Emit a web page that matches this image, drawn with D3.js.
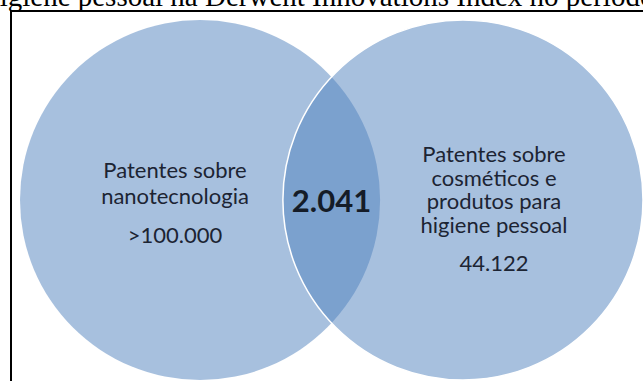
<!DOCTYPE html>
<html>
<head>
<meta charset="utf-8">
<script src="https://cdn.jsdelivr.net/npm/d3@7"></script>
<style>
  html, body { margin: 0; padding: 0; background: #fff; overflow: hidden; }
  svg { display: block; }
</style>
</head>
<body>
<svg id="chart" width="643" height="381"></svg>
<script>
// Venn diagram: patents on nanotechnology vs. cosmetics / personal hygiene
const caption = "higiene pessoal na Derwent Innovations Index no período";
const setNames = ["nano", "cosm"];
const setLabels = [
  ["Patentes sobre", "nanotecnologia"],
  ["Patentes sobre", "cosméticos e", "produtos para", "higiene pessoal"]
];
const setValues = [">100.000", "44.122"];
const overlapValue = "2.041";

// Layout in unit space: both circles radius 1, centres 1.46 apart
const unitCenters = [0, 1.46];
const unitRadius = 1;

const W = 643, H = 381;
const svg = d3.select("#chart");

// Unit -> pixel scales
const x = d3.scaleLinear().domain([-1, 2.46]).range([20, 643]);
const y = d3.scaleLinear().domain([-1, 1]).range([20, 380]);
const rPx = x(unitRadius) - x(0);

const fillColor = "#4F81BD";

// Caption line (runs past both edges of the view)
const cap = svg.append("text")
  .attr("x", 0).attr("y", 6)
  .attr("font-family", "'Liberation Serif', 'Times New Roman', serif")
  .attr("font-size", 29)
  .attr("fill", "#000")
  .text(caption);
const idx = caption.indexOf("Derwent");
const pre = cap.node().getSubStringLength(0, idx);
cap.attr("x", 205 - pre);

// Frame (top and left edges visible)
svg.append("line").attr("x1", 10).attr("x2", W + 2).attr("y1", 11).attr("y2", 11)
  .attr("stroke", "#000").attr("stroke-width", 2);
svg.append("line").attr("x1", 11).attr("x2", 11).attr("y1", 10).attr("y2", H + 2)
  .attr("stroke", "#000").attr("stroke-width", 2);

const circles = svg.append("g");
circles.selectAll("circle")
  .data(setNames)
  .join("circle")
  .attr("cx", (d, i) => x(unitCenters[i]))
  .attr("cy", y(0))
  .attr("r", rPx)
  .attr("fill", fillColor)
  .attr("fill-opacity", 0.5)
  .attr("stroke", (d, i) => i === 1 ? "#fff" : "none")
  .attr("stroke-width", 1.5);

const textFont = "Lato, 'Open Sans', sans-serif";
const textColor = "#1c2433";
const labelCx = [175, 494];
const labelTop = [178, 162];
const lineH = [26, 23.5];
const valueGap = [39, 38];

setLabels.forEach((lines, i) => {
  const g = svg.append("g").attr("font-family", textFont).attr("font-size", 22)
    .attr("fill", textColor).attr("text-anchor", "middle");
  lines.forEach((ln, j) => {
    g.append("text").attr("x", labelCx[i]).attr("y", labelTop[i] + j * lineH[i]).text(ln);
  });
  g.append("text").attr("x", labelCx[i])
    .attr("y", labelTop[i] + (lines.length - 1) * lineH[i] + valueGap[i])
    .text(setValues[i]);
});

svg.append("text")
  .attr("x", (x(unitCenters[0]) + x(unitCenters[1])) / 2)
  .attr("y", 212)
  .attr("text-anchor", "middle")
  .attr("font-family", textFont)
  .attr("font-weight", "bold")
  .attr("font-size", 31)
  .attr("fill", "#151c28")
  .text(overlapValue);
</script>
</body>
</html>
